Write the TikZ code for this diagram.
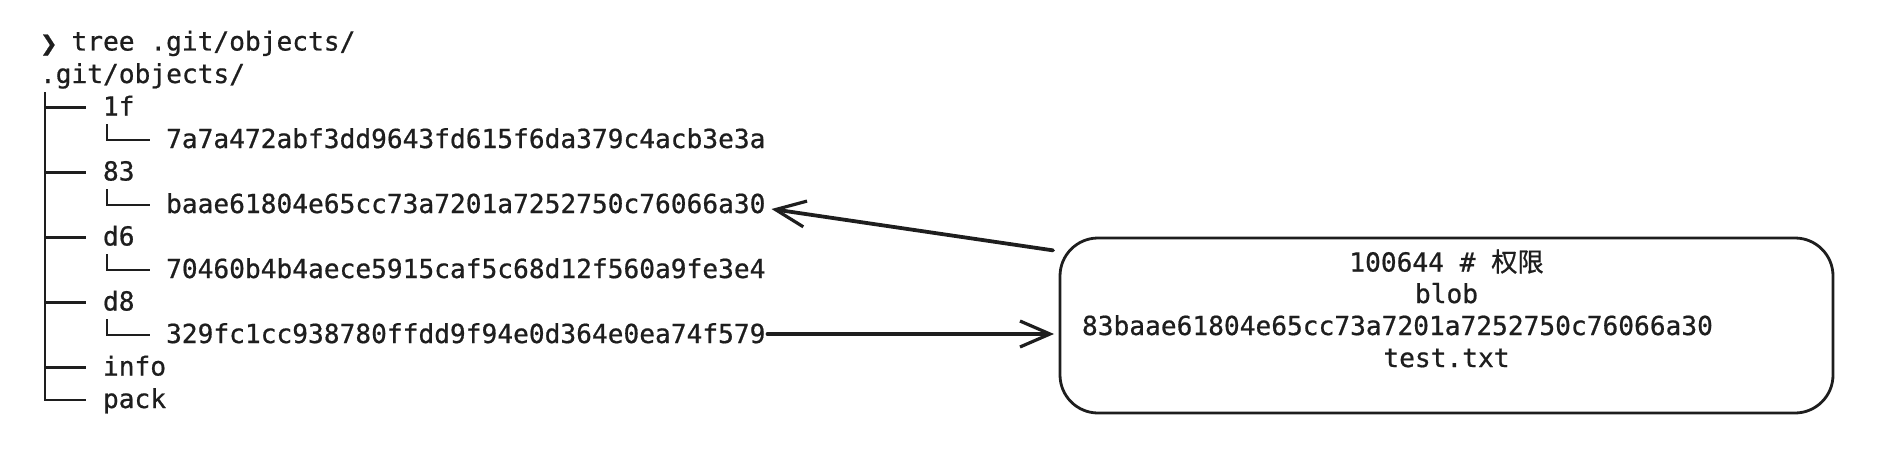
\documentclass[tikz,border=0pt]{standalone}
\usepackage{fontspec}
\setmonofont[FakeBold=0.7]{DejaVu Sans Mono}
\newfontfamily\cjk[FakeBold=0.7]{Noto Sans CJK SC}
\newfontfamily\symfont[FakeBold=0.7]{DejaVu Sans}
\usetikzlibrary{arrows.meta,calc}
\definecolor{ink}{HTML}{1E1E1E}
\begin{document}
\begin{tikzpicture}[x=1pt,y=-1pt,
  txt/.style={inner sep=0pt, outer sep=0pt, anchor=base west, font=\ttfamily\fontsize{26.2}{32}\selectfont, text=ink},
  ctxt/.style={txt, anchor=base},
  treeline/.style={draw=ink, line width=2.8pt},
  conn/.style={draw=ink, line width=3.8pt, line cap=round, line join=round,
    -{Straight Barb[length=30pt,width=26pt,line width=3.2pt]}},
  objbox/.style={draw=ink, line width=2.8pt, rounded corners=38pt,
    minimum width=773pt, minimum height=175pt, inner sep=0pt, outer sep=0pt}]
\useasboundingbox (0,0) rectangle (1892,460);
% tree listing
\node[txt] (h0)  at (40,50.5)  {\makebox[31.5pt][l]{\symfont\fontsize{21}{21}\selectfont ❯}tree .git/objects/};
\node[txt] (h1)  at (40,83)    {.git/objects/};
\node[txt] (h2)  at (103,115.5) {1f};
\node[txt] (h3)  at (166.1,148) {7a7a472abf3dd9643fd615f6da379c4acb3e3a};
\node[txt] (h4)  at (103,180.5) {83};
\node[txt] (h5)  at (166.1,213) {baae61804e65cc73a7201a7252750c76066a30};
\node[txt] (h6)  at (103,245.5) {d6};
\node[txt] (h7)  at (166.1,278) {70460b4b4aece5915caf5c68d12f560a9fe3e4};
\node[txt] (h8)  at (103,310.5) {d8};
\node[txt] (h9)  at (166.1,343) {329fc1cc938780ffdd9f94e0d364e0ea74f579};
\node[txt] (h10) at (103,375.5) {info};
\node[txt] (h11) at (103,408)   {pack};
% tree branches
\draw[treeline] (45,92) -- (45,400) -- (86,400);
\foreach \b in {115.5,180.5,245.5,310.5,375.5}
  \draw[treeline] (45,\b-8) -- (86,\b-8);
\foreach \b in {148,213,278,343}
  \draw[treeline] (107,\b-24) -- (107,\b-8) -- (150,\b-8);
% object box
\node[objbox] (box) at (1446.5,325.5) {};
\node[ctxt] (b1) at (1446.5,271.5) {100644 \# {\cjk 权限}};
\node[ctxt] (b2) at (1446.5,303) {blob};
\node[txt]  (b3) at (1082,335) {83baae61804e65cc73a7201a7252750c76066a30};
\node[ctxt] (b4) at (1446.5,367) {test.txt};
% connectors
\draw[conn] ($(box.169)+(-7,0)$) -- ($(h5.base east)+(6,-4)$);
\draw[conn] ($(h9.base east)+(2,-9)$) -- ($(box.west)+(-6,8.5)$);
\end{tikzpicture}
\end{document}
